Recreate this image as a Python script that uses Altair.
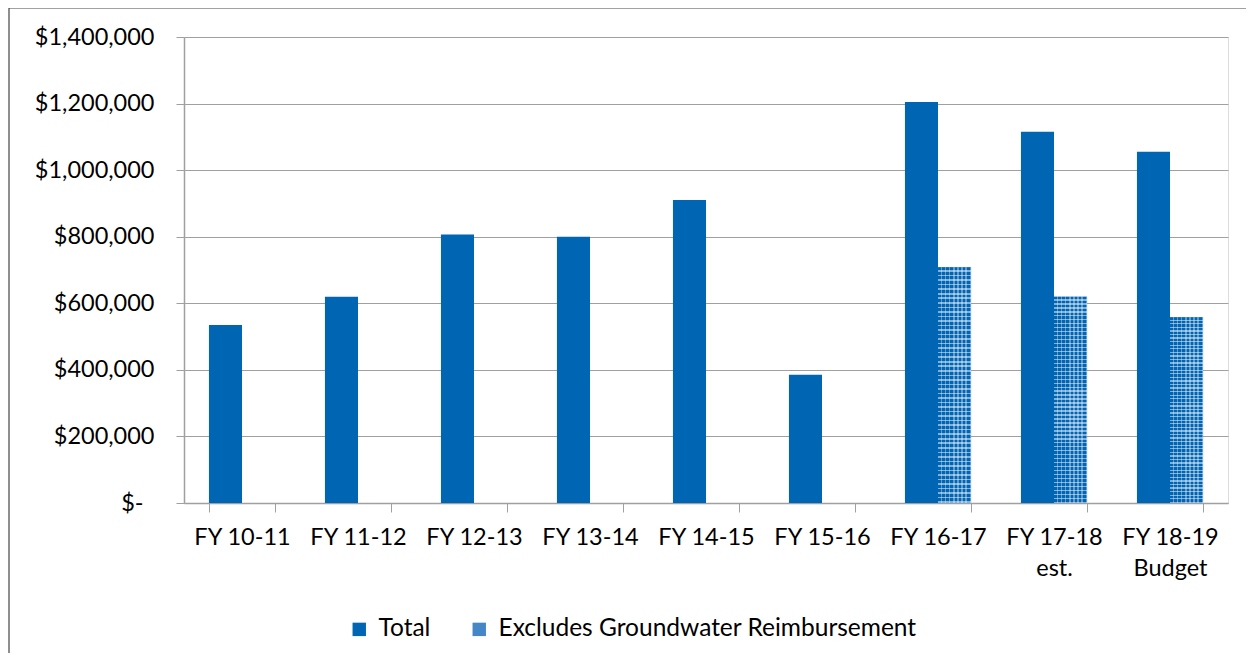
import altair as alt
import pandas as pd

categories = ["FY 10-11", "FY 11-12", "FY 12-13", "FY 13-14", "FY 14-15",
              "FY 15-16", "FY 16-17", "FY 17-18|est.", "FY 18-19|Budget"]
total = [535000, 620000, 807000, 800000, 910000, 385000, 1205000, 1115000, 1055000]
excludes = [None, None, None, None, None, None, 708000, 620000, 558000]
series_names = ["Total", "Excludes Groundwater Reimbursement"]
y_ticks = [0, 200000, 400000, 600000, 800000, 1000000, 1200000, 1400000]

rows = []
for c, t, e in zip(categories, total, excludes):
    rows.append({"cat": c, "series": series_names[0], "value": t})
    if e is not None:
        rows.append({"cat": c, "series": series_names[1], "value": e})
df = pd.DataFrame(rows)

FONT = "Lato"
FS = 23.5
BLUE = "#0066b3"


def stripes(n, c1, c2, frac, horizontal):
    stops = []
    for i in range(n):
        a = i / n
        b = (i + 1 - frac) / n
        c = (i + 1) / n
        stops += [{"offset": a, "color": c1}, {"offset": b, "color": c1},
                  {"offset": b, "color": c2}, {"offset": c, "color": c2}]
    return {"gradient": "linear", "x1": 0, "y1": 0,
            "x2": 1 if horizontal else 0, "y2": 0 if horizontal else 1,
            "stops": stops}


x_enc = alt.X("cat:N", sort=categories,
              scale=alt.Scale(paddingInner=0.43, paddingOuter=0.215),
              axis=alt.Axis(title=None, labelAngle=0, labelExpr="split(datum.label, '|')",
                            labelFont=FONT, labelFontSize=FS, labelColor="black",
                            labelLineHeight=31, labelPadding=13,
                            tickBand="extent", tickSize=9, tickColor="#a0a0a0",
                            domainColor="#a0a0a0", domainWidth=1.5, grid=False,
                            labelBaseline="top"))
xo_enc = alt.XOffset("series:N", sort=series_names,
                     scale=alt.Scale(domain=series_names, paddingInner=0, paddingOuter=0))
y_enc = alt.Y("value:Q",
              scale=alt.Scale(domain=[0, 1400000], nice=False),
              axis=alt.Axis(title=None, values=y_ticks,
                            labelExpr="datum.value == 0 ? '$-' : format(datum.value, '$,')",
                            labelFont=FONT, labelFontSize=FS, labelColor="black",
                            labelPadding={"condition": {"test": "datum.value == 0", "value": 33},
                                          "value": 22},
                            tickSize=8, tickColor="#a0a0a0",
                            domainColor="#a0a0a0", domainWidth=1.5,
                            gridColor="#a0a0a0", gridWidth=1.2))

base = alt.Chart(df)

bars = base.mark_bar().encode(
    x=x_enc, xOffset=xo_enc, y=y_enc,
    color=alt.Color("series:N", sort=series_names,
                    scale=alt.Scale(domain=series_names, range=[BLUE, "#4587c6"]),
                    legend=alt.Legend(title=None, orient="none", legendX=163, legendY=580,
                                      direction="horizontal", symbolType="square",
                                      symbolSize=180, symbolStrokeWidth=0,
                                      labelFont=FONT, labelFontSize=24.5, labelColor="black",
                                      labelLimit=0, columnPadding=36, labelOffset=7))
)

hatch1 = base.transform_filter(alt.datum.series == series_names[1]).mark_bar(
    fill=stripes(8, BLUE, "#5f9bd3", 0.35, True)
).encode(x=x_enc, xOffset=xo_enc, y=y_enc)

hatch2 = base.transform_filter(alt.datum.series == series_names[1]).mark_bar(
    fill=stripes(52, "rgba(255,255,255,0)", "rgba(255,255,255,0.5)", 0.35, False)
).encode(x=x_enc, xOffset=xo_enc, y=y_enc)

frame_df = pd.DataFrame({"a": [0]})
frame_v = alt.Chart(frame_df).mark_rule(color="#444444", strokeWidth=1.2).encode(
    x=alt.value(-175), y=alt.value(-29), y2=alt.value(650))
frame_h = alt.Chart(frame_df).mark_rule(color="#444444", strokeWidth=1.2).encode(
    x=alt.value(-175), x2=alt.value(1070), y=alt.value(-29))

chart = alt.layer(bars, hatch1, hatch2, frame_v, frame_h).properties(
    width=1044, height=466,
    autosize=alt.AutoSizeParams(type="none"),
    padding={"left": 176, "top": 29, "right": 18, "bottom": 150},
).configure_view(stroke=None).configure(background="white")

chart.save("out.html", embed_options={"renderer": "svg", "actions": False})
